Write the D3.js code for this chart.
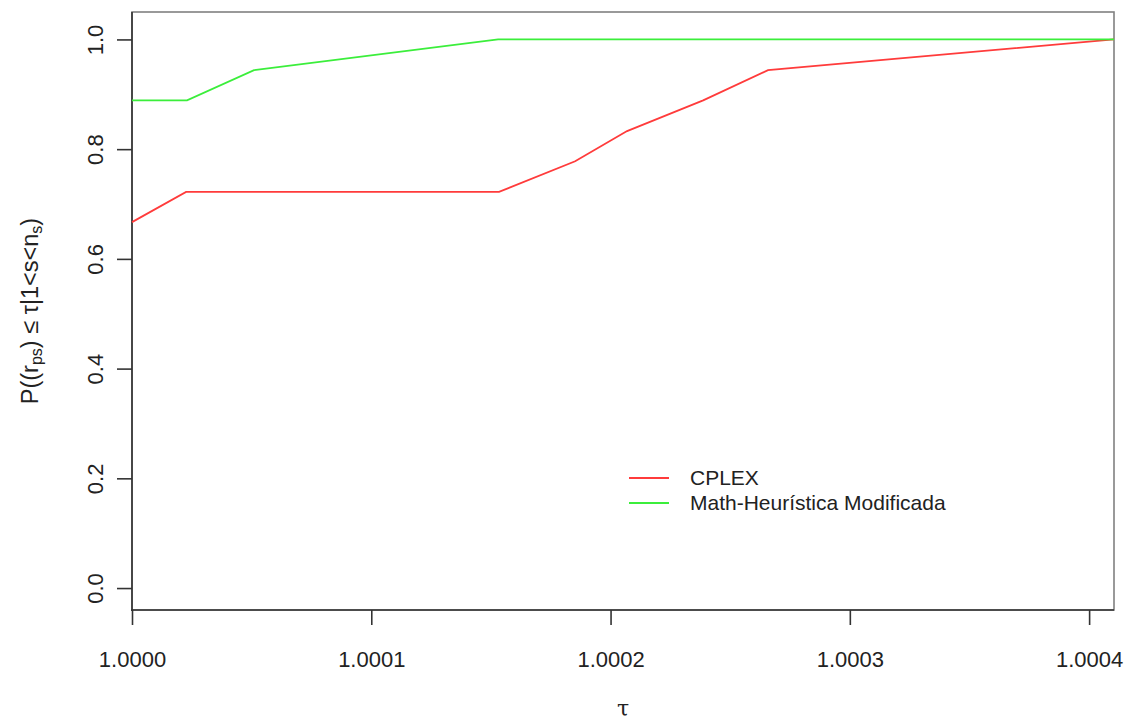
<!DOCTYPE html>
<html>
<head>
<meta charset="utf-8">
<script src="https://cdn.jsdelivr.net/npm/d3@7"></script>
<style>
  body { margin: 0; background: #fff; }
  text { font-family: "Liberation Sans", Arial, sans-serif; fill: #222; }
</style>
</head>
<body>
<div class="chart"></div>
<script>
// set the dimensions of the page
var width = 1136;
var height = 722;

// data (tau, proportion)
var cplexTau = [1.0000000, 1.0000226, 1.0001534, 1.0001852, 1.0002069, 1.0002387, 1.0002658, 1.0004104];
var cplexVal = [0.667, 0.722, 0.722, 0.778, 0.833, 0.889, 0.944, 1.000];
var mathTau = [1.0000000, 1.0000230, 1.0000510, 1.0001530, 1.0004104];
var mathVal = [0.889, 0.889, 0.944, 1.000, 1.000];

var xTicks = [1.0000, 1.0001, 1.0002, 1.0003, 1.0004];
var yTicks = [0, 0.2, 0.4, 0.6, 0.8, 1.0];

var seriesNames = ["CPLEX", "Math-Heurística Modificada"];
var seriesColors = ["#ff3b3b", "#3bee3b"];

var plotLeft = 132, plotRight = 1114, plotTop = 12, plotBottom = 610;

var svg = d3.select(".chart")
  .append("svg")
    .attr("width", width)
    .attr("height", height);

var x = d3.scaleLinear()
  .domain([1, 1.0004104])
  .range([plotLeft, plotRight]);

var y = d3.scaleLinear()
  .domain([-0.04, 1.05])
  .range([plotBottom, plotTop]);

// box
svg.append("rect")
  .attr("x", plotLeft)
  .attr("y", plotTop)
  .attr("width", plotRight - plotLeft)
  .attr("height", plotBottom - plotTop)
  .style("fill", "none")
  .style("stroke", "#808080")
  .style("stroke-width", 1.6);

// axes
var xAxis = svg.append("g")
  .attr("transform", "translate(0," + plotBottom + ")")
  .call(d3.axisBottom(x).tickValues(xTicks).tickSize(15).tickSizeOuter(0).tickPadding(26)
    .tickFormat(d3.format(".4f")));

var yAxis = svg.append("g")
  .attr("transform", "translate(" + plotLeft + ",0)")
  .call(d3.axisLeft(y).tickValues(yTicks).tickSize(15).tickSizeOuter(0).tickFormat(d3.format(".1f")));

xAxis.select(".domain").attr("d", "M" + (plotLeft - 1) + ",0H" + plotRight);
yAxis.select(".domain").attr("d", "M0," + plotTop + "V" + (plotBottom + 1));

svg.selectAll(".domain, .tick line")
  .style("stroke", "#333")
  .style("stroke-width", 1.6);

xAxis.selectAll("text")
  .style("font-size", "22px")
  .style("fill", "#222");

yAxis.selectAll(".tick text")
  .attr("x", null).attr("dy", null)
  .attr("transform", "translate(-37,0) rotate(-90)")
  .attr("text-anchor", "middle")
  .attr("dy", "0.35em")
  .style("font-size", "22px")
  .style("fill", "#222");

// lines
var line = d3.line()
  .x(function(d) { return x(d[0]); })
  .y(function(d) { return y(d[1]); });

var series = [d3.zip(cplexTau, cplexVal), d3.zip(mathTau, mathVal)];

svg.append("g")
  .selectAll("path")
  .data(series)
  .enter()
  .append("path")
    .attr("d", line)
    .style("fill", "none")
    .style("stroke", function(d, i) { return seriesColors[i]; })
    .style("stroke-width", 1.8);

// axis titles
svg.append("text")
  .attr("x", (plotLeft + plotRight) / 2)
  .attr("y", 716)
  .attr("text-anchor", "middle")
  .style("font-family", "'DejaVu Serif', serif")
  .style("font-size", "22px")
  .text("τ");

var yLab = svg.append("text")
  .attr("transform", "translate(38," + ((plotTop + plotBottom) / 2) + ") rotate(-90)")
  .attr("text-anchor", "middle")
  .style("font-size", "23.5px");
yLab.append("tspan").text("P((r");
yLab.append("tspan").attr("baseline-shift", "-25%").style("font-size", "16px").text("ps");
yLab.append("tspan").text(") ≤ τ|1<s<n");
yLab.append("tspan").attr("baseline-shift", "-25%").style("font-size", "16px").text("s");
yLab.append("tspan").text(")");

// legend
var legend = svg.append("g")
  .selectAll("g")
  .data(seriesNames)
  .enter()
  .append("g")
    .attr("transform", function(d, i) { return "translate(629," + (478 + i * 25) + ")"; });

legend.append("line")
  .attr("x1", 0).attr("x2", 40)
  .style("stroke", function(d, i) { return seriesColors[i]; })
  .style("stroke-width", 1.8);

legend.append("text")
  .attr("x", 61)
  .attr("dy", "0.35em")
  .style("font-size", "21px")
  .text(function(d) { return d; });
</script>
</body>
</html>
